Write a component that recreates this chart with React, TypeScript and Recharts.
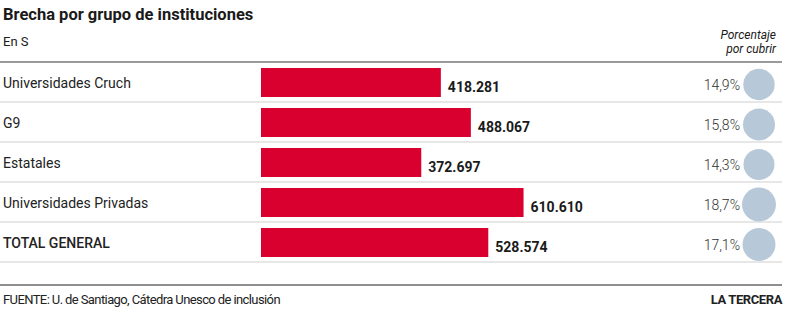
import { BarChart, Bar, XAxis, YAxis } from "recharts";

const CATEGORIES = ["Universidades Cruch", "G9", "Estatales", "Universidades Privadas", "TOTAL GENERAL"];
const BRECHA = [418281, 488067, 372697, 610610, 528574];
const PORCENTAJE = [14.9, 15.8, 14.3, 18.7, 17.1];

const data = CATEGORIES.map((name, i) => ({ name, brecha: BRECHA[i], pct: PORCENTAJE[i] }));

const ROW_H = 40;
const LINE_END = 782;
const RED = "#d9002f";
const CIRCLE = "#b7c9d9";
const FONT = "Roboto, 'Open Sans', sans-serif";

const fmtMiles = (v: number) => String(v).replace(/\B(?=(\d{3})+(?!\d))/g, ".");
const fmtPct = (v: number) => v.toFixed(1).replace(".", ",") + "%";

function CategoryTick(props: any) {
  const { y, index, payload } = props;
  const isTotal = payload.value === "TOTAL GENERAL";
  return (
    <g>
      {index === 0 && <line x1={0} x2={LINE_END} y1={y - ROW_H / 2} y2={y - ROW_H / 2} stroke="#9a9a9a" strokeWidth={2} />}
      <line x1={0} x2={LINE_END} y1={y + ROW_H / 2} y2={y + ROW_H / 2} stroke="#cfcfcf" strokeWidth={1} />
      <text x={3} y={y + 2} dominantBaseline="middle" fontSize={14} fill="#222" fontWeight={isTotal ? 500 : 400} fontFamily={FONT}>
        {payload.value}
      </text>
    </g>
  );
}

function PctTick(props: any) {
  const { x, y, index } = props;
  const p = PORCENTAJE[index];
  const r = 15.5 + (p - 14.3) * 0.34;
  return (
    <g>
      <text x={x + 41} y={y + 4} textAnchor="end" dominantBaseline="middle" fontSize={14} fill="#333" fontWeight={300} fontFamily={FONT}>
        {fmtPct(p)}
      </text>
      <circle cx={x + 60} cy={y + 2.5} r={r} fill={CIRCLE} />
    </g>
  );
}

function ValueLabel(props: any) {
  const { x, y, width, height, value } = props;
  return (
    <text x={x + width + 7} y={y + height / 2 + 6} dominantBaseline="middle" fontSize={14} fontWeight={700} fill="#1a1a1a" fontFamily={FONT}>
      {fmtMiles(value)}
    </text>
  );
}

export default function App() {
  return (
    <div style={{ position: "absolute", left: 0, top: 0, width: 800, height: 323, background: "#fff", fontFamily: FONT, color: "#1a1a1a" }}>
      <div style={{ position: "absolute", left: 3, top: 5, fontSize: 16.5, fontWeight: 700, lineHeight: "20px" }}>
        Brecha por grupo de instituciones
      </div>
      <div style={{ position: "absolute", left: 3, top: 34, fontSize: 13, lineHeight: "16px" }}>En S</div>
      <div style={{ position: "absolute", right: 800 - 776, top: 28, fontSize: 12, fontStyle: "italic", lineHeight: "14px", textAlign: "right" }}>
        Porcentaje
        <br />
        por cubrir
      </div>

      <BarChart width={800} height={323} layout="vertical" data={data} margin={{ top: 62, bottom: 61, left: 0, right: 0 }}>
        <XAxis type="number" domain={[0, 1000000]} hide />
        <YAxis yAxisId="left" type="category" dataKey="name" width={261} axisLine={false} tickLine={false} tick={<CategoryTick />} />
        <YAxis yAxisId="right" orientation="right" type="category" dataKey="name" width={109} axisLine={false} tickLine={false} tick={<PctTick />} />
        <Bar yAxisId="left" dataKey="brecha" fill={RED} barSize={29} isAnimationActive={false} label={<ValueLabel />} />
      </BarChart>

      <div style={{ position: "absolute", left: 0, top: 284, width: LINE_END, height: 2, background: "#8f8f8f" }} />
      <div style={{ position: "absolute", left: 3, top: 292, fontSize: 13, lineHeight: "16px", letterSpacing: "-0.6px", color: "#222" }}>
        FUENTE: U. de Santiago, Cátedra Unesco de inclusión
      </div>
      <div style={{ position: "absolute", right: 800 - LINE_END, top: 292, fontSize: 13, fontWeight: 700, lineHeight: "16px", letterSpacing: "-0.4px", color: "#222" }}>
        LA TERCERA
      </div>
    </div>
  );
}
